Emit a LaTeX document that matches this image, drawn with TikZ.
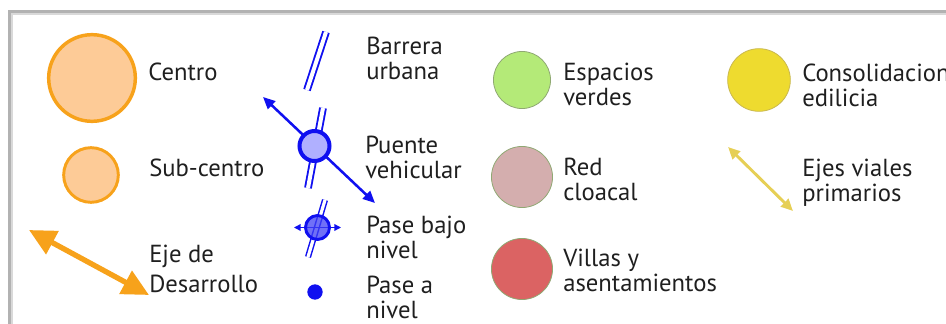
\documentclass[tikz,border=0pt]{standalone}
\usepackage{fontspec}
\setmainfont{PT Sans}
\usetikzlibrary{arrows.meta}

\definecolor{naranja}{HTML}{F7A21B}
\definecolor{durazno}{HTML}{FDCB97}
\definecolor{azul}{HTML}{1010F0}
\definecolor{lavanda}{HTML}{B0B0FF}
\definecolor{verde}{HTML}{B4EA78}
\definecolor{rosa}{HTML}{D4AEAE}
\definecolor{rojo}{HTML}{DB6363}
\definecolor{amarillo}{HTML}{EEDB2F}
\definecolor{amarilloeje}{HTML}{E6CF55}
\definecolor{bordeverde}{HTML}{8FA873}
\definecolor{bordeamarillo}{HTML}{C9B850}

\tikzset{
  texto/.style={anchor=base west, align=left, inner sep=0pt,
    font=\fontsize{18.5}{18.75}\selectfont, text=black!88},
  centro/.style={circle, draw=naranja, fill=durazno, inner sep=0pt},
  zona/.style={circle, draw=bordeverde, line width=0.6pt, inner sep=0pt},
  barrera/.style={draw=azul, line width=1.4pt, double=white, double distance=3pt},
}

\begin{document}
\begin{tikzpicture}[x=0.75pt,y=-0.75pt]
  \useasboundingbox (0,0) rectangle (946,324);
  % marco
  \draw[line width=2pt, color=gray!60] (9.5,330) |- (950,11.3);
  \draw[line width=1.4pt, color=gray!30] (11.8,330) |- (950,13.6);

  % centros y eje de desarrollo
  \node[centro, line width=2.6pt, minimum size=65pt] (centro) at (92,78) {};
  \node[texto] (tcentro) at (148,81) {Centro};
  \node[centro, line width=2.2pt, minimum size=41pt] (subcentro) at (91,175) {};
  \node[texto] (tsubcentro) at (149,176) {Sub-centro};
  \coordinate (eje1) at (29,230);
  \coordinate (eje2) at (149,295);
  \draw[naranja, line width=4pt, {Triangle[length=20pt,width=19pt]}-{Triangle[length=20pt,width=19pt]}] (eje1) -- (eje2);
  \node[texto] (teje) at (149,292) {Eje de\\[3.75pt]Desarrollo};

  % barrera y pasos
  \coordinate (barrera1) at (326,32);
  \coordinate (barrera2) at (307,90);
  \draw[barrera] (barrera1) -- (barrera2);
  \node[texto] (tbarrera) at (366,80) {Barrera\\urbana};

  \coordinate (puente1) at (323,108);
  \coordinate (puente2) at (308,188);
  \coordinate (flecha1) at (263,97);
  \coordinate (flecha2) at (375,203);
  \draw[barrera] (puente1) -- (puente2);
  \draw[azul, line width=1.9pt, {Triangle[length=9pt,width=8pt]}-{Triangle[length=9pt,width=8pt]}] (flecha1) -- (flecha2);
  \node[circle, draw=azul, fill=lavanda, line width=3pt, minimum size=22.5pt, inner sep=0pt] (puente) at (314.5,146) {};
  \node[texto] (tpuente) at (365,179) {Puente\\vehicular};

  \coordinate (bajo1) at (325,200);
  \coordinate (bajo2) at (308,257);
  \coordinate (lado1) at (294,227.5);
  \coordinate (lado2) at (341,227.5);
  \draw[barrera, line width=1.1pt, double distance=2.4pt] (bajo1) -- (bajo2);
  \draw[azul, line width=1.1pt, {Triangle[length=5pt,width=5pt]}-{Triangle[length=5pt,width=5pt]}] (lado1) -- (lado2);
  \node[circle, draw=azul, fill=azul!70!lavanda, fill opacity=0.75, line width=2.2pt, minimum size=18pt, inner sep=0pt] (pasebajo) at (317.5,227.5) {};
  \node[texto] (tpasebajo) at (366,258) {Pase bajo\\nivel};

  \node[circle, fill=azul, minimum size=11.5pt, inner sep=0pt] (pasenivel) at (315,292) {};
  \node[texto] (tpasenivel) at (366,318) {Pase a\\nivel};

  % zonas
  \node[zona, fill=verde, minimum size=42.8pt] (verdes) at (522,80) {};
  \node[texto] (tverdes) at (563,106) {Espacios\\verdes};
  \node[zona, fill=rosa, minimum size=45.8pt] (cloacal) at (522,177) {};
  \node[texto] (tcloacal) at (563,200) {Red\\cloacal};
  \node[zona, fill=rojo, minimum size=45.8pt] (villas) at (522,269) {};
  \node[texto] (tvillas) at (563,291) {Villas y\\asentamientos};

  % consolidacion y ejes viales
  \node[zona, draw=bordeamarillo, fill=amarillo, minimum size=47pt] (edilicia) at (759,80) {};
  \node[texto] (tedilicia) at (802,107) {Consolidacion\\edilicia};
  \coordinate (vial1) at (728,147);
  \coordinate (vial2) at (793,211);
  \draw[amarilloeje, line width=2.2pt, {Triangle[length=9pt,width=8pt]}-{Triangle[length=9pt,width=8pt]}] (vial1) -- (vial2);
  \node[texto] (tviales) at (802,201) {Ejes viales\\primarios};
\end{tikzpicture}
\end{document}
